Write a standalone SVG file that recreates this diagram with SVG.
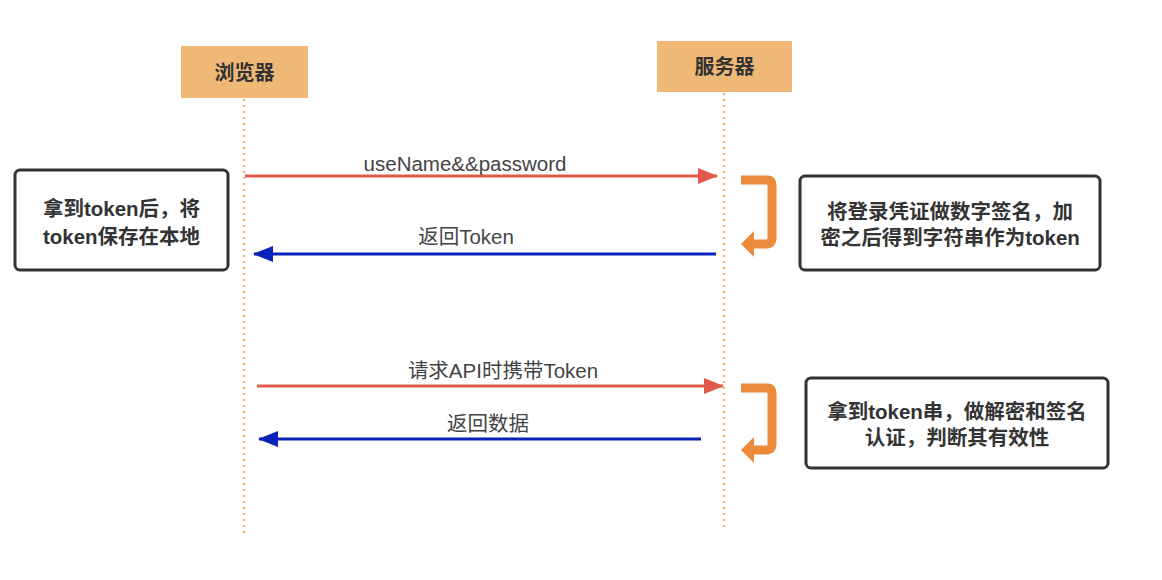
<svg xmlns="http://www.w3.org/2000/svg" width="1162" height="580" viewBox="0 0 1162 580">
<style>
.actor{fill:#f0b877;}
.actxt{font-family:"Noto Sans CJK SC","Liberation Sans",sans-serif;font-size:20px;font-weight:bold;fill:#333;text-anchor:middle;}
.life{stroke:#f2b47a;stroke-width:2.5;stroke-dasharray:2 4;fill:none;}
.note{fill:#fff;stroke:#333;stroke-width:3;}
.ntxt{font-family:"Liberation Sans","Noto Sans CJK SC",sans-serif;font-size:20.5px;font-weight:bold;fill:#333;text-anchor:middle;}
.lbl{font-family:"Liberation Sans","Noto Sans CJK SC",sans-serif;font-size:20.5px;fill:#444;text-anchor:middle;}
.red{stroke:#e05a4a;stroke-width:3;fill:none;}
.blue{stroke:#0a22b8;stroke-width:3;fill:none;}
.ret{stroke:#eb8a3a;stroke-width:9;fill:none;stroke-linejoin:round;}
</style>
<defs>
<marker id="ar" viewBox="0 0 20 16" refX="19" refY="8" markerWidth="20" markerHeight="16" markerUnits="userSpaceOnUse" orient="auto"><path d="M0,0 L20,8 L0,16 Z" fill="#e05a4a"/></marker>
<marker id="ab" viewBox="0 0 20 16" refX="19" refY="8" markerWidth="20" markerHeight="16" markerUnits="userSpaceOnUse" orient="auto"><path d="M0,0 L20,8 L0,16 Z" fill="#0a22b8"/></marker>
</defs>
<rect width="1162" height="580" fill="#fff"/>
<g id="lifelines">
<line class="life" x1="244" y1="99" x2="244" y2="535"/>
<line class="life" x1="724" y1="93" x2="724" y2="528"/>
</g>
<g id="browser">
<rect class="actor" x="181" y="46" width="127" height="52"/>
<text class="actxt" x="244.5" y="80">浏览器</text>
</g>
<g id="server">
<rect class="actor" x="657" y="41" width="135" height="51"/>
<text class="actxt" x="724.5" y="74">服务器</text>
</g>
<g id="connectors">
<line class="red" x1="245" y1="176" x2="717" y2="176" marker-end="url(#ar)"/>
<text class="lbl" x="465" y="171">useName&amp;&amp;password</text>
<line class="blue" x1="716" y1="254" x2="254" y2="254" marker-end="url(#ab)"/>
<text class="lbl" x="466" y="244">返回Token</text>
<line class="red" x1="257" y1="386" x2="723" y2="386" marker-end="url(#ar)"/>
<text class="lbl" x="503" y="378">请求API时携带Token</text>
<line class="blue" x1="701" y1="439" x2="259" y2="439" marker-end="url(#ab)"/>
<text class="lbl" x="488" y="431">返回数据</text>
<path class="ret" d="M741,180 H768 Q772,180 772,186 V238 Q772,244 766,244 H752"/>
<path d="M741,244 L754,231 L754,257 Z" fill="#eb8a3a"/>
<path class="ret" d="M741,388 H768 Q772,388 772,394 V444 Q772,450 766,450 H752"/>
<path d="M741,450 L754,437 L754,463 Z" fill="#eb8a3a"/>
</g>
<g id="note-left">
<rect class="note" x="15" y="170" width="213" height="100" rx="5"/>
<text class="ntxt" x="121.5" y="216">拿到token后，将</text>
<text class="ntxt" x="121.5" y="244">token保存在本地</text>
</g>
<g id="note-right1">
<rect class="note" x="800" y="176" width="300" height="94" rx="5"/>
<text class="ntxt" x="950" y="219">将登录凭证做数字签名，加</text>
<text class="ntxt" x="950" y="245">密之后得到字符串作为token</text>
</g>
<g id="note-right2">
<rect class="note" x="806" y="378" width="302" height="90" rx="5"/>
<text class="ntxt" x="957" y="419">拿到token串，做解密和签名</text>
<text class="ntxt" x="957" y="445">认证，判断其有效性</text>
</g>
</svg>
